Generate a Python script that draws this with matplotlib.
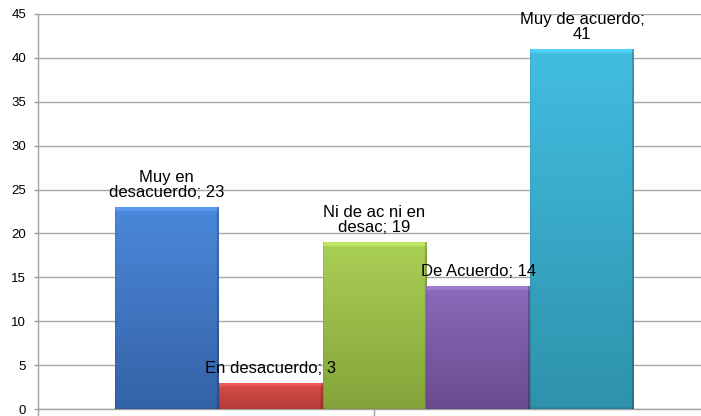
import numpy as np
import matplotlib
matplotlib.use("Agg")
import matplotlib.pyplot as plt
from matplotlib.colors import to_rgb
from matplotlib.lines import Line2D

categories = ["Muy en desacuerdo", "En desacuerdo", "Ni de ac ni en desac", "De Acuerdo", "Muy de acuerdo"]
values = [23, 3, 19, 14, 41]
labels = ["Muy en\ndesacuerdo; 23", "En desacuerdo; 3", "Ni de ac ni en\ndesac; 19",
          "De Acuerdo; 14", "Muy de acuerdo;\n41"]
top_colors = ["#4B88DA", "#DA4E4A", "#AACF55", "#8B6ABA", "#42BEE2"]
bottom_colors = ["#3462A6", "#B63A36", "#84A43A", "#694B8F", "#2E92AB"]
yticks = [0, 5, 10, 15, 20, 25, 30, 35, 40, 45]

plt.rcParams['font.family'] = ['Liberation Sans', 'DejaVu Sans']

fig = plt.figure(figsize=(7.01, 4.16), dpi=100)
ax = fig.add_axes([38/701, (416-409)/416, 1 - 38/701, (409-14)/416])

n = len(values)
x = np.arange(n) - (n - 1) / 2
bars = ax.bar(x, values, width=1.0, facecolor='none', edgecolor='none', zorder=3)

px_per_unit = (409 - 14) / 45.0

for b, v, tc, bc, lab in zip(bars, values, top_colors, bottom_colors, labels):
    x0, w, h = b.get_x(), b.get_width(), b.get_height()
    t = np.array(to_rgb(tc)); bo = np.array(to_rgb(bc))
    H, W = 400, 100
    fy = np.linspace(0, 1, H)[:, None, None]
    img = t * (1 - fy) + bo * fy
    img = np.repeat(img, W, axis=1)
    bar_px = h * px_per_unit
    top_px = int(round(H * 4.0 / bar_px))
    top_px = max(1, min(top_px, H // 3))
    img[:top_px] = np.clip(img[:top_px] * 1.06 + 0.04, 0, 1)
    img[:, -2:] = img[:, -2:] * 0.8
    img[:, :1] = img[:, :1] * 0.92
    img[-2:, :] = img[-2:, :] * 0.9
    im = ax.imshow(img, extent=(x0, x0 + w, 0, h), aspect='auto', zorder=3,
                   interpolation='bilinear')
    im.set_clip_path(b)
    ax.annotate(lab, (x0 + w / 2, h), xytext=(0, 5), textcoords='offset points',
                ha='center', va='bottom', fontsize=12, linespacing=1.0,
                color='black', zorder=5)

ax.set_xlim(-3.24, 3.145)
ax.set_ylim(0, 45)
ax.set_yticks(yticks)
ax.set_xticks([])
ax.grid(axis='y', color='#A6A6A6', linewidth=1.0, zorder=0)
ax.set_axisbelow(True)
for s in ['top', 'right']:
    ax.spines[s].set_visible(False)
for s in ['left', 'bottom']:
    ax.spines[s].set_color('#A0A0A0')
    ax.spines[s].set_linewidth(1.0)
ax.tick_params(axis='y', direction='out', length=3, width=1, color='#A0A0A0',
               labelsize=9.5, pad=5.5, labelcolor='black')
tick_h = 6 / (409 - 14)
ax.add_line(Line2D([0, 0], [0, -tick_h], transform=ax.get_xaxis_transform(),
                   color='#A0A0A0', linewidth=1.0, clip_on=False))
ax.add_line(Line2D([0, 0], [0, -tick_h], transform=ax.transAxes,
                   color='#A0A0A0', linewidth=1.0, clip_on=False))

fig.savefig("out.png", dpi=100)
